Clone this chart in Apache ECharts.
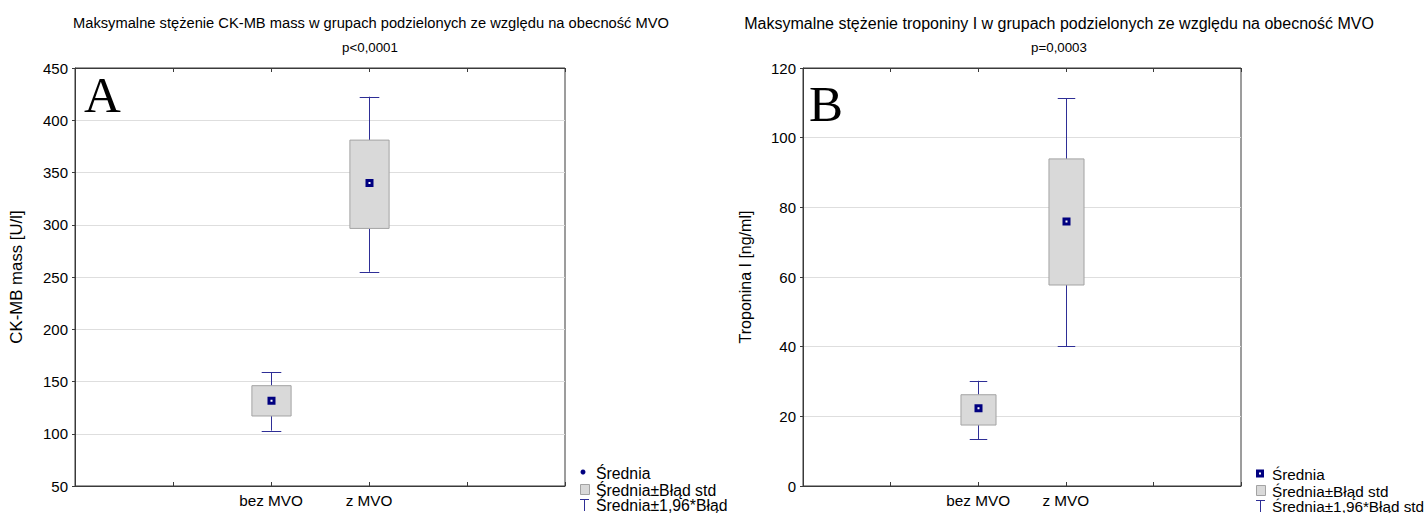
<!DOCTYPE html>
<html><head><meta charset="utf-8">
<script src="https://cdn.jsdelivr.net/npm/echarts@6/dist/echarts.min.js"></script>
<style>
html,body{margin:0;padding:0;background:#fff;}
#a{position:absolute;left:0;top:0;width:729px;height:513px;overflow:hidden;}
#b{position:absolute;left:729px;top:0;width:695px;height:513px;overflow:hidden;}
</style></head><body>
<div id="a"></div><div id="b"></div>
<script>
// ---- data ----
const xTickLabels = ['', '', 'bez MVO', 'z MVO', '', ''];
const groups = ['bez MVO', 'z MVO'];

const ckMean   = [131.5, 340];
const ckSeLow  = [117, 296.5];
const ckSeHigh = [146, 381];
const ckCiLow  = [103, 255];
const ckCiHigh = [159, 422.5];

const trMean   = [22.3, 75.9];
const trSeLow  = [17.5, 57.7];
const trSeHigh = [26.2, 93.9];
const trCiLow  = [13.5, 40.2];
const trCiHigh = [30.2, 111.3];

const titleA = 'Maksymalne stężenie CK-MB mass w grupach podzielonych ze względu na obecność MVO';
const pA = 'p<0,0001';
const titleB = 'Maksymalne stężenie troponiny I w grupach podzielonych ze względu na obecność MVO';
const pB = 'p=0,0003';
const yNameA = 'CK-MB mass [U/l]';
const yNameB = 'Troponina I [ng/ml]';
const legendLabels = ['Średnia', 'Średnia±Błąd std', 'Średnia±1,96*Błąd std'];

const FONT = '"Liberation Sans", Arial, sans-serif';
const BOX_FILL = '#d9d9d9', BOX_STROKE = '#a3a3a3', WHISK = '#2e2e96', NAVY = '#000080';

function buildData(mean, sl, sh, cl, ch) {
  return groups.map((g, i) => [xTickLabels.indexOf(g), mean[i], sl[i], sh[i], cl[i], ch[i]]);
}

function renderItem(params, api) {
  const x = api.value(0);
  const pMean = api.coord([x, api.value(1)]);
  const pSl = api.coord([x, api.value(2)]);
  const pSh = api.coord([x, api.value(3)]);
  const pCl = api.coord([x, api.value(4)]);
  const pCh = api.coord([x, api.value(5)]);
  const unit = api.size([1, 0])[0];
  const bw = unit * 0.4, cw = unit * 0.2;
  const cx = Math.round(pMean[0]) + 0.5;
  const ls = {stroke: WHISK, lineWidth: 1};
  return {type: 'group', children: [
    {type: 'line', shape: {x1: cx, y1: pCh[1], x2: cx, y2: pSh[1]}, style: ls},
    {type: 'line', shape: {x1: cx, y1: pSl[1], x2: cx, y2: pCl[1]}, style: ls},
    {type: 'line', shape: {x1: cx - cw / 2, y1: Math.round(pCh[1]) + 0.5, x2: cx + cw / 2, y2: Math.round(pCh[1]) + 0.5}, style: ls},
    {type: 'line', shape: {x1: cx - cw / 2, y1: Math.round(pCl[1]) + 0.5, x2: cx + cw / 2, y2: Math.round(pCl[1]) + 0.5}, style: ls},
    {type: 'rect', shape: {x: cx - bw / 2, y: pSh[1], width: bw, height: pSl[1] - pSh[1]},
      style: {fill: BOX_FILL, stroke: BOX_STROKE, lineWidth: 1}},
    {type: 'rect', shape: {x: cx - 2.5, y: pMean[1] - 2.5, width: 5, height: 5},
      style: {fill: '#fff', stroke: NAVY, lineWidth: 3}}
  ]};
}

function makeOption(cfg) {
  const g = cfg.grid;
  return {
    animation: false,
    title: [
      {text: cfg.title, left: cfg.titleX, top: 10, textAlign: 'center',
        textStyle: {fontFamily: FONT, fontSize: cfg.titleSize, fontWeight: 'normal', color: '#000'}},
      {text: cfg.p, left: cfg.pX, top: 36, textAlign: 'center',
        textStyle: {fontFamily: FONT, fontSize: 13.3, fontWeight: 'normal', color: '#000'}}
    ],
    grid: {left: g.left, top: g.top, width: g.width, height: g.height, show: true,
      borderColor: '#3a3a3a', borderWidth: 1, backgroundColor: 'transparent'},
    xAxis: [
      {type: 'category', data: xTickLabels, boundaryGap: false, position: 'bottom',
        axisLine: {lineStyle: {color: '#3a3a3a'}},
        axisTick: {inside: true, length: 4, interval: 0, lineStyle: {color: '#3a3a3a'}},
        axisLabel: {interval: 0, margin: 7, fontFamily: FONT, fontSize: 15.3, color: '#000'},
        splitLine: {show: false}},
      {type: 'category', data: xTickLabels, boundaryGap: false, position: 'top',
        axisLine: {lineStyle: {color: '#3a3a3a'}},
        axisTick: {inside: true, length: 4, interval: 0, lineStyle: {color: '#3a3a3a'}},
        axisLabel: {show: false}, splitLine: {show: false}}
    ],
    yAxis: {type: 'value', min: cfg.ymin, max: cfg.ymax, interval: cfg.yint,
      name: cfg.yName, nameLocation: 'middle', nameGap: cfg.nameGap, nameRotate: 90,
      nameTextStyle: {fontFamily: FONT, fontSize: cfg.nameSize, color: '#000'},
      axisLine: {show: true, lineStyle: {color: '#3a3a3a'}},
      axisTick: {show: true, length: 3, lineStyle: {color: '#3a3a3a'}},
      axisLabel: {margin: 7, fontFamily: FONT, fontSize: 15, color: '#000'},
      splitLine: {lineStyle: {color: '#dedede', width: 1}}},
    series: [{type: 'custom', xAxisIndex: 0, yAxisIndex: 0, renderItem: renderItem,
      data: cfg.data, clip: false, z: 5}],
    graphic: cfg.graphic
  };
}

function legendGraphic(x, tx, ys, dotMarker, fs) {
  const els = [];
  if (dotMarker) {
    els.push({type: 'circle', shape: {cx: x + 3, cy: ys[0] - 1, r: 2.5}, style: {fill: NAVY}});
  } else {
    els.push({type: 'rect', shape: {x: x + 1.5, y: ys[0] - 3, width: 5, height: 5}, style: {fill: '#fff', stroke: NAVY, lineWidth: 3}});
  }
  els.push({type: 'rect', shape: {x: x + 0.5, y: ys[1] - 5.5, width: 9, height: 10}, style: {fill: BOX_FILL, stroke: BOX_STROKE, lineWidth: 1}});
  els.push({type: 'line', shape: {x1: x, y1: ys[2] - 5.5, x2: x + 9, y2: ys[2] - 5.5}, style: {stroke: WHISK, lineWidth: 1}});
  els.push({type: 'line', shape: {x1: x + 4.5, y1: ys[2] - 5.5, x2: x + 4.5, y2: ys[2] + 6}, style: {stroke: WHISK, lineWidth: 1}});
  legendLabels.forEach((t, i) => {
    els.push({type: 'text', x: tx, y: ys[i], style: {text: t, fontFamily: FONT, fontSize: fs, fill: '#000', textVerticalAlign: 'middle', verticalAlign: 'middle'}});
  });
  return els;
}

const chartA = echarts.init(document.getElementById('a'), null, {renderer: 'svg'});
chartA.setOption(makeOption({
  title: titleA, p: pA, titleX: 366, pX: 365, titleSize: 14.7,
  grid: {left: 73, top: 68, width: 492, height: 418},
  ymin: 50, ymax: 450, yint: 50, yName: yNameA, nameGap: 50, nameSize: 16.8,
  data: buildData(ckMean, ckSeLow, ckSeHigh, ckCiLow, ckCiHigh),
  graphic: [
    {type: 'text', x: 84, y: 95, style: {text: 'A', fontFamily: '"Liberation Serif", "Times New Roman", serif', fontSize: 51, fill: '#000', textVerticalAlign: 'middle', verticalAlign: 'middle'}}
  ].concat(legendGraphic(580, 596, [473, 490, 505], true, 15.8))
}));

const chartB = echarts.init(document.getElementById('b'), null, {renderer: 'svg'});
chartB.setOption(makeOption({
  title: titleB, p: pB, titleX: 325, pX: 325, titleSize: 16,
  grid: {left: 63, top: 68, width: 449, height: 418},
  ymin: 0, ymax: 120, yint: 20, yName: yNameB, nameGap: 50, nameSize: 16,
  data: buildData(trMean, trSeLow, trSeHigh, trCiLow, trCiHigh),
  graphic: [
    {type: 'text', x: 80, y: 104, style: {text: 'B', fontFamily: '"Liberation Serif", "Times New Roman", serif', fontSize: 51, fill: '#000', textVerticalAlign: 'middle', verticalAlign: 'middle'}}
  ].concat(legendGraphic(527, 543, [474, 491, 506], false, 15.3))
}));
</script></body></html>
